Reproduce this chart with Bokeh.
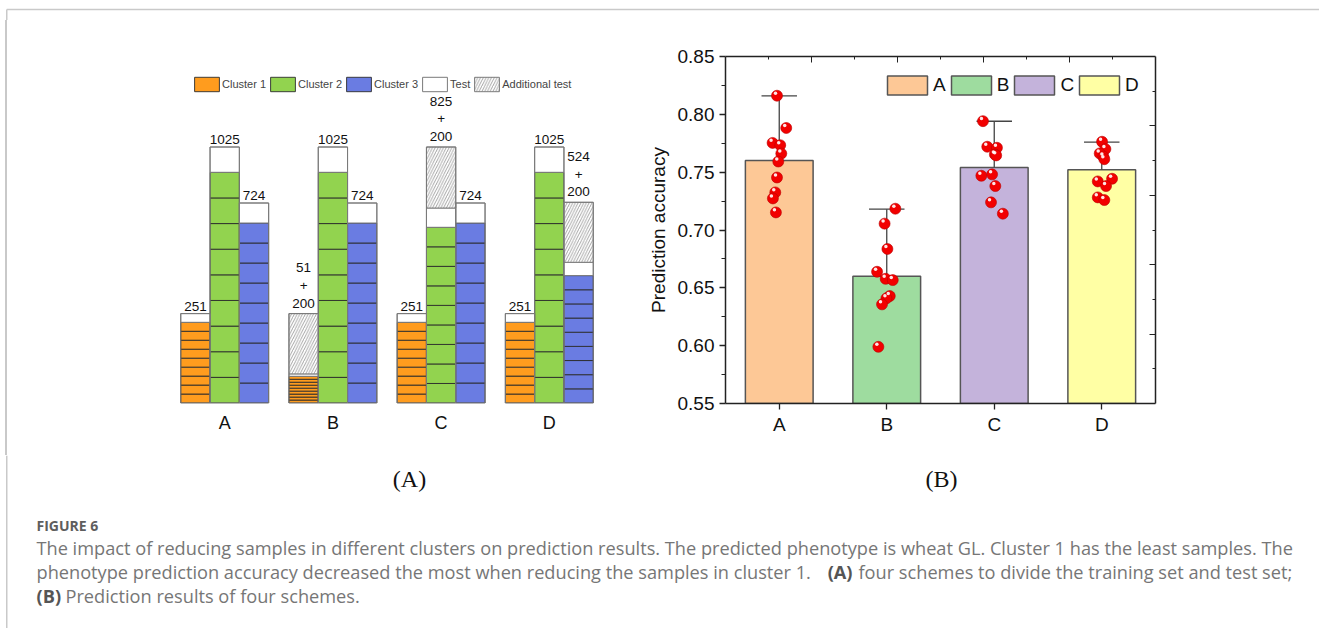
from bokeh.plotting import figure
from bokeh.models import (Range1d, LinearAxis, FixedTicker, NumeralTickFormatter,
                          Legend, LegendItem, ColumnDataSource, Div)
from bokeh.layouts import column, row
from bokeh.transform import dodge
from bokeh.core.properties import value
from bokeh.embed import file_html
from bokeh.resources import INLINE

# ---------------- data : panel (A) scheme diagram ----------------
schemes = ["A", "B", "C", "D"]
clusters = ["Cluster 1", "Cluster 2", "Cluster 3"]
cluster_colors = ["#FF9C1E", "#92D34F", "#6A7CE2"]
count_labels = [["251", "1025", "724"],
                ["51\n+\n200", "1025", "724"],
                ["251", "825\n+\n200", "724"],
                ["251", "1025", "524\n+\n200"]]
# drawn heights (diagram units) of training part, test part and additional test part
train_h = [[80.7, 230.7, 180.0], [26.7, 230.7, 180.0], [80.7, 175.7, 180.0], [80.7, 230.7, 127.4]]
test_h = [[8.7, 25.3, 20.0], [2.4, 25.3, 20.0], [8.7, 19.3, 20.0], [8.7, 25.3, 13.3]]
extra_h = [[0.0, 0.0, 0.0], [60.3, 0.0, 0.0], [0.0, 61.0, 0.0], [0.0, 0.0, 60.0]]
n_folds = 9

# ---------------- data : panel (B) prediction accuracy ----------------
pred_schemes = ["A", "B", "C", "D"]
bar_means = [0.760, 0.660, 0.754, 0.752]
bar_caps = [0.816, 0.718, 0.794, 0.776]
bar_colors = ["#FDC896", "#9EDC9F", "#C4B3DB", "#FFFFA4"]
acc_A = [0.8161, 0.7882, 0.7753, 0.7733, 0.7661, 0.7592, 0.7454, 0.7325, 0.7273, 0.7152]
acc_B = [0.7184, 0.7055, 0.6836, 0.6639, 0.6578, 0.6567, 0.6429, 0.6409, 0.6357, 0.5990]
acc_C = [0.7941, 0.7720, 0.7711, 0.7653, 0.7645, 0.7469, 0.7481, 0.7380, 0.7239, 0.7141]
acc_D = [0.7763, 0.7700, 0.7662, 0.7635, 0.7612, 0.7443, 0.7420, 0.7380, 0.7282, 0.7259]
jit_A = [-0.021, 0.065, -0.062, 0.009, 0.019, -0.009, -0.021, -0.037, -0.059, -0.031]
jit_B = [0.080, -0.020, 0.006, -0.090, -0.010, 0.056, 0.028, -0.003, -0.044, -0.078]
jit_C = [-0.105, -0.065, 0.025, 0.006, 0.018, -0.120, -0.020, 0.010, -0.030, 0.080]
jit_D = [0.003, 0.034, -0.019, 0.015, 0.024, 0.096, -0.037, 0.040, -0.037, 0.024]

FONT = "Liberation Sans"
BORDER = "#C9C9C9"
LEFT_W = 7            # width of the left page-border strip
STRIP_H = 20          # height of the top page-border strip
ROW_H = 435
TOP_B, BOT_B = 36, 52  # shared frame borders of the two panels

# ================= top strip (page border) =================
figS = figure(width=1319, height=STRIP_H, x_range=Range1d(0, 1319), y_range=Range1d(STRIP_H, 0),
              x_axis_type=None, y_axis_type=None, min_border=0, outline_line_color=None,
              output_backend="svg", toolbar_location=None)
figS.segment(x0=[6.25, 6.25], y0=[9, 9], x1=[1319, 6.25], y1=[9, STRIP_H], line_color=BORDER, line_width=1.5)

divL = Div(text="", width=LEFT_W, height=ROW_H, margin=0,
           styles={"background": "linear-gradient(to right, #ffffff 0px, #ffffff 5.5px, "
                                 "#C9C9C9 5.5px, #C9C9C9 7px)"})

# ================= panel (A) =================
COL_W = 29.3           # px per column
PITCH = 108.2 / COL_W  # group pitch in column widths
A_ORIGIN = 224.2       # page x of first group centre
BASE = 402.5           # page y of base line
FR_TOP = STRIP_H + TOP_B
FR_BOT = STRIP_H + ROW_H - BOT_B
figA = figure(width=640 - LEFT_W, height=ROW_H,
              x_range=Range1d((LEFT_W - A_ORIGIN) / COL_W, (640 - A_ORIGIN) / COL_W),
              y_range=Range1d(BASE - FR_BOT, BASE - FR_TOP),
              y_axis_location=None, min_border_left=0, min_border_right=0,
              min_border_top=TOP_B, min_border_bottom=BOT_B, outline_line_color=None,
              output_backend="svg", toolbar_location=None)
figA.grid.visible = False
gx = [g * PITCH for g in range(len(schemes))]
axA = figA.xaxis[0]
axA.ticker = FixedTicker(ticks=gx)
axA.major_label_overrides = {x: s for x, s in zip(gx, schemes)}
axA.axis_line_color = None
axA.major_tick_line_color = None
axA.minor_tick_line_color = None
axA.major_label_standoff = 3
axA.major_label_text_font = FONT
axA.major_label_text_font_size = "18px"
axA.major_label_text_color = "#111111"

tr = dict(left=[], right=[], bottom=[], top=[], color=[])
te = dict(left=[], right=[], bottom=[], top=[])
ex = dict(left=[], right=[], bottom=[], top=[])
ol = dict(left=[], right=[], bottom=[], top=[])
lab = dict(x=[], y=[], text=[])
first_idx = []
for g, s in enumerate(schemes):
    for c in range(3):
        xc = g * PITCH + (c - 1)
        h = train_h[g][c]
        for k in range(n_folds):
            if k == 0 and g == 0:
                first_idx.append(len(tr["left"]))
            tr["left"].append(xc - 0.5); tr["right"].append(xc + 0.5)
            tr["bottom"].append(h * k / n_folds); tr["top"].append(h * (k + 1) / n_folds)
            tr["color"].append(cluster_colors[c])
        te["left"].append(xc - 0.5); te["right"].append(xc + 0.5)
        te["bottom"].append(h); te["top"].append(h + test_h[g][c])
        total = h + test_h[g][c] + extra_h[g][c]
        if extra_h[g][c] > 0:
            ex["left"].append(xc - 0.5); ex["right"].append(xc + 0.5)
            ex["bottom"].append(h + test_h[g][c]); ex["top"].append(total)
        ol["left"].append(xc - 0.5); ol["right"].append(xc + 0.5)
        ol["bottom"].append(0); ol["top"].append(total)
        lab["x"].append(xc); lab["y"].append(total); lab["text"].append(count_labels[g][c])

r_tr = figA.quad(left="left", right="right", bottom="bottom", top="top", fill_color="color",
                 line_color="#2B2B2B", line_width=0.9, source=ColumnDataSource(tr))
r_te = figA.quad(left="left", right="right", bottom="bottom", top="top", fill_color="white",
                 line_color="#7A7A7A", line_width=1, source=ColumnDataSource(te))
r_ex = figA.quad(left="left", right="right", bottom="bottom", top="top", fill_color="white",
                 hatch_pattern="/", hatch_color="#8C8C8C", hatch_scale=5.5, hatch_weight=0.8,
                 line_color="#7A7A7A", line_width=1, source=ColumnDataSource(ex))
figA.quad(left="left", right="right", bottom="bottom", top="top", fill_color=None,
          line_color="#7A7A7A", line_width=1, source=ColumnDataSource(ol))
figA.text(x="x", y="y", text="text", source=ColumnDataSource(lab), text_align="center",
          text_baseline="bottom", y_offset=-3, text_font=value(FONT), text_font_size="13.5px",
          text_line_height=1.18, text_color="#111111")

legA = Legend(items=[LegendItem(label=clusters[0], renderers=[r_tr], index=first_idx[0]),
                     LegendItem(label=clusters[1], renderers=[r_tr], index=first_idx[1]),
                     LegendItem(label=clusters[2], renderers=[r_tr], index=first_idx[2]),
                     LegendItem(label="Test", renderers=[r_te], index=0),
                     LegendItem(label="Additional test", renderers=[r_ex], index=0)],
              orientation="horizontal", location=(184, 310), glyph_width=31, glyph_height=18,
              label_height=18, label_width=10, label_text_font=FONT, label_text_font_size="11px",
              label_standoff=0, spacing=1, padding=0, margin=0, border_line_color=None,
              background_fill_alpha=0)
figA.add_layout(legA)

# ================= panel (B) =================
figB = figure(width=679, height=ROW_H, x_range=Range1d(0, 4), y_range=Range1d(0.55, 0.85),
              min_border_left=85, min_border_right=164, min_border_top=TOP_B, min_border_bottom=BOT_B,
              outline_line_color=None, output_backend="svg", toolbar_location=None)
figB.grid.visible = False
xs = [i + 0.5 for i in range(len(pred_schemes))]
bsrc = ColumnDataSource(dict(x=xs, top=bar_means, cap=bar_caps, color=bar_colors, cat=pred_schemes))
figB.vbar(x="x", top="top", bottom=0, width=0.63, fill_color="color", line_color="#555555",
          line_width=1.5, legend_field="cat", source=bsrc)
figB.segment(x0="x", y0="top", x1="x", y1="cap", line_color="#444444", line_width=1.3, source=bsrc)
figB.segment(x0=dodge("x", -0.165), y0="cap", x1=dodge("x", 0.165), y1="cap",
             line_color="#444444", line_width=1.3, source=bsrc)

px, py = [], []
for i, (accs, jits) in enumerate([(acc_A, jit_A), (acc_B, jit_B), (acc_C, jit_C), (acc_D, jit_D)]):
    for a, j in zip(accs, jits):
        px.append(i + 0.5 + j); py.append(a)
psrc = ColumnDataSource(dict(x=px, y=py))
figB.scatter(x="x", y="y", size=11, fill_color="#F20000", line_color="#B80000", line_width=0.6, source=psrc)
figB.scatter(x=dodge("x", -0.014), y=dodge("y", 0.0022), size=3.5, fill_color="white",
             line_color=None, fill_alpha=0.9, source=psrc)

ax_col = "#222222"
xa = figB.xaxis[0]
xa.ticker = FixedTicker(ticks=xs)
xa.major_label_overrides = {x: s for x, s in zip(xs, pred_schemes)}
ya = figB.yaxis[0]
ya.ticker = FixedTicker(ticks=[0.55, 0.60, 0.65, 0.70, 0.75, 0.80, 0.85],
                        minor_ticks=[0.575, 0.625, 0.675, 0.725, 0.775, 0.825])
ya.formatter = NumeralTickFormatter(format="0.00")
ya.axis_label = "Prediction accuracy"
for ax in (xa, ya):
    ax.axis_line_color = ax_col
    ax.axis_line_width = 1.5
    ax.major_tick_line_color = ax_col
    ax.minor_tick_line_color = ax_col
    ax.major_tick_line_width = 1.3
    ax.major_tick_in = 0
    ax.major_tick_out = 6
    ax.minor_tick_in = 0
    ax.minor_tick_out = 4
    ax.major_label_text_font = FONT
    ax.major_label_text_font_size = "19px"
    ax.major_label_text_color = "#111111"
    ax.major_label_standoff = 5
    ax.axis_label_text_font = FONT
    ax.axis_label_text_font_size = "19px"
    ax.axis_label_text_font_style = "normal"
    ax.axis_label_text_color = "#111111"
ya.axis_label_standoff = 6
xa.major_label_standoff = 4

figB.extra_x_ranges = {"t": Range1d(0, 10)}
figB.extra_y_ranges = {"r": Range1d(0, 10)}
for name, place in (("t", "above"), ("r", "right")):
    kw = {"x_range_name": name} if name == "t" else {"y_range_name": name}
    ax = LinearAxis(ticker=FixedTicker(ticks=[2, 4, 6, 8], minor_ticks=[1, 3, 5, 7, 9]), **kw)
    ax.major_label_overrides = {2: "", 4: "", 6: "", 8: ""}
    ax.major_label_text_font_size = "0px"
    ax.axis_line_color = ax_col
    ax.axis_line_width = 1.5
    ax.major_tick_line_color = ax_col
    ax.minor_tick_line_color = ax_col
    ax.major_tick_in = 6
    ax.major_tick_out = 0
    ax.minor_tick_in = 3
    ax.minor_tick_out = 0
    figB.add_layout(ax, place)

lg = figB.legend[0]
lg.orientation = "horizontal"
lg.location = (157, 306)
lg.glyph_width = 50
lg.glyph_height = 24
lg.label_height = 24
lg.label_width = 10
lg.label_standoff = 1
lg.spacing = 0
lg.padding = 0
lg.margin = 0
lg.border_line_color = None
lg.background_fill_alpha = 0
lg.label_text_font = FONT
lg.label_text_font_size = "19px"
lg.label_text_color = "#111111"

# ================= caption area =================
figC = figure(width=1319, height=173, x_range=Range1d(0, 1319), y_range=Range1d(628, 455),
              x_axis_type=None, y_axis_type=None, min_border=0, outline_line_color=None,
              output_backend="svg", toolbar_location=None)
figC.segment(x0=[6.25], y0=[455], x1=[6.25], y1=[628], line_color=BORDER, line_width=1.5)
figC.text(x=[409, 941], y=[478, 478], text=["(A)", "(B)"], text_align="center",
          text_baseline="middle", text_font=value("Liberation Serif"), text_font_size="24px",
          text_color="#111111")
CAP = "Open Sans"
figC.text(x=[36], y=[525], text=["FIGURE 6"], text_baseline="middle", text_font=value(CAP),
          text_font_size="14px", text_font_style="bold", text_color="#5E5E5E")
figC.text(x=[36, 36, 858, 65], y=[547, 571, 571, 595],
          text=["The impact of reducing samples in different clusters on prediction results. The predicted phenotype is wheat GL. Cluster 1 has the least samples. The",
                "phenotype prediction accuracy decreased the most when reducing the samples in cluster 1.",
                "four schemes to divide the training set and test set;",
                "Prediction results of four schemes."],
          text_baseline="middle", text_font=value(CAP), text_font_size="18.2px", text_color="#767676")
figC.text(x=[852], y=[571], text=["(A)"], text_align="right", text_baseline="middle",
          text_font=value(CAP), text_font_size="18.2px", text_font_style="bold", text_color="#555555")
figC.text(x=[36], y=[595], text=["(B)"], text_baseline="middle",
          text_font=value(CAP), text_font_size="18.2px", text_font_style="bold", text_color="#555555")

layout = column(figS, row(divL, figA, figB), figC)
open("out.html", "w").write(file_html(layout, INLINE))
